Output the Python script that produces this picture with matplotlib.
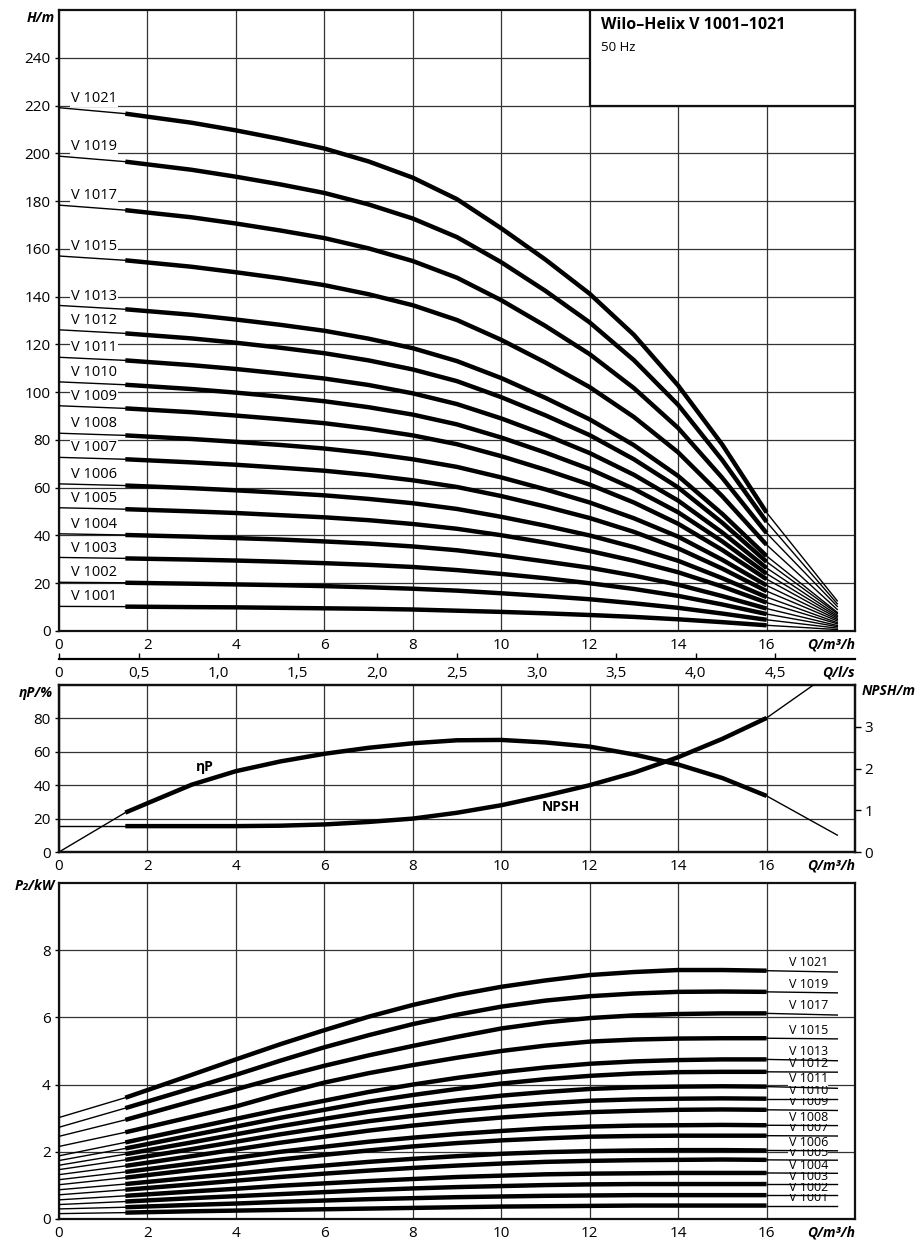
import numpy as np
import matplotlib
matplotlib.use("Agg")
import matplotlib.pyplot as plt
from matplotlib.patches import Rectangle

plt.rcParams['font.family'] = ['Open Sans', 'DejaVu Sans']

# --- data ---
pumps = ["V 1001", "V 1002", "V 1003", "V 1004", "V 1005", "V 1006", "V 1007", "V 1008",
         "V 1009", "V 1010", "V 1011", "V 1012", "V 1013", "V 1015", "V 1017", "V 1019", "V 1021"]

# flow points (m3/h) shared by the H and P2 curves
q = [0, 1.5, 3, 4, 5, 6, 7, 8, 9, 10, 11, 12, 13, 14, 15, 16, 17.6]

head = [
    [10.3, 10.2, 10.0, 9.9, 9.7, 9.5, 9.3, 9.0, 8.5, 8.0, 7.4, 6.7, 5.9, 4.9, 3.7, 2.4, 0.6],
    [20.4, 20.2, 19.8, 19.5, 19.2, 18.8, 18.3, 17.7, 16.9, 15.8, 14.6, 13.3, 11.6, 9.7, 7.3, 4.7, 1.2],
    [30.8, 30.4, 29.9, 29.5, 29.0, 28.4, 27.7, 26.8, 25.5, 23.9, 22.1, 20.0, 17.6, 14.7, 11.1, 7.1, 1.8],
    [40.7, 40.2, 39.5, 38.9, 38.3, 37.5, 36.6, 35.4, 33.8, 31.6, 29.1, 26.5, 23.2, 19.4, 14.6, 9.4, 2.3],
    [51.6, 51.0, 50.1, 49.4, 48.5, 47.6, 46.4, 44.8, 42.8, 40.1, 37.0, 33.5, 29.4, 24.6, 18.6, 11.9, 3.0],
    [61.6, 60.9, 59.8, 58.9, 57.9, 56.8, 55.3, 53.5, 51.1, 47.8, 44.1, 40.0, 35.1, 29.4, 22.1, 14.2, 3.5],
    [72.7, 71.9, 70.6, 69.6, 68.4, 67.1, 65.3, 63.1, 60.3, 56.5, 52.1, 47.3, 41.5, 34.6, 26.1, 16.7, 4.2],
    [82.8, 81.9, 80.4, 79.2, 77.9, 76.4, 74.4, 71.9, 68.7, 64.3, 59.3, 53.8, 47.2, 39.5, 29.8, 19.1, 4.8],
    [94.3, 93.2, 91.6, 90.2, 88.7, 87.0, 84.7, 81.9, 78.2, 73.2, 67.5, 61.3, 53.8, 44.9, 33.9, 21.7, 5.4],
    [104.3, 103.1, 101.3, 99.8, 98.1, 96.2, 93.7, 90.6, 86.5, 81.0, 74.7, 67.8, 59.5, 49.7, 37.5, 24.0, 6.0],
    [114.6, 113.3, 111.3, 109.7, 107.8, 105.7, 103.0, 99.5, 95.0, 89.0, 82.1, 74.5, 65.4, 54.6, 41.2, 26.4, 6.6],
    [126.1, 124.6, 122.5, 120.7, 118.6, 116.3, 113.3, 109.5, 104.6, 97.9, 90.3, 82.0, 71.9, 60.1, 45.3, 29.0, 7.3],
    [136.3, 134.7, 132.4, 130.4, 128.2, 125.7, 122.4, 118.4, 113.0, 105.9, 97.6, 88.6, 77.8, 64.9, 49.0, 31.4, 7.8],
    [157.0, 155.2, 152.5, 150.2, 147.7, 144.8, 141.0, 136.4, 130.2, 121.9, 112.4, 102.1, 89.6, 74.8, 56.4, 36.1, 9.0],
    [178.3, 176.2, 173.2, 170.6, 167.7, 164.5, 160.2, 154.9, 147.9, 138.5, 127.7, 115.9, 101.7, 85.0, 64.1, 41.0, 10.3],
    [198.8, 196.5, 193.1, 190.2, 187.0, 183.4, 178.6, 172.7, 164.9, 154.4, 142.4, 129.2, 113.4, 94.7, 71.5, 45.7, 11.4],
    [219.1, 216.6, 212.8, 209.6, 206.0, 202.0, 196.6, 189.8, 180.8, 168.6, 155.5, 141.2, 124.0, 102.8, 78.0, 49.6, 12.6],
]

power = [
    [0.16, 0.19, 0.23, 0.25, 0.27, 0.29, 0.31, 0.33, 0.35, 0.37, 0.38, 0.39, 0.40, 0.40, 0.40, 0.40, 0.40],
    [0.30, 0.35, 0.42, 0.46, 0.51, 0.55, 0.59, 0.62, 0.65, 0.67, 0.69, 0.70, 0.71, 0.71, 0.71, 0.71, 0.71],
    [0.43, 0.52, 0.62, 0.68, 0.74, 0.80, 0.86, 0.91, 0.95, 0.98, 1.01, 1.03, 1.04, 1.04, 1.04, 1.04, 1.04],
    [0.57, 0.69, 0.82, 0.90, 0.99, 1.06, 1.13, 1.19, 1.25, 1.29, 1.33, 1.35, 1.36, 1.37, 1.37, 1.37, 1.36],
    [0.72, 0.87, 1.03, 1.14, 1.25, 1.35, 1.44, 1.52, 1.59, 1.65, 1.70, 1.73, 1.75, 1.76, 1.77, 1.76, 1.75],
    [0.87, 1.04, 1.23, 1.35, 1.48, 1.59, 1.70, 1.79, 1.87, 1.94, 1.99, 2.02, 2.04, 2.05, 2.05, 2.04, 2.03],
    [1.02, 1.23, 1.46, 1.61, 1.77, 1.91, 2.04, 2.16, 2.26, 2.34, 2.40, 2.45, 2.47, 2.48, 2.48, 2.48, 2.47],
    [1.17, 1.40, 1.65, 1.82, 2.00, 2.15, 2.30, 2.42, 2.53, 2.62, 2.70, 2.75, 2.78, 2.79, 2.80, 2.79, 2.78],
    [1.32, 1.58, 1.87, 2.07, 2.27, 2.45, 2.63, 2.78, 2.91, 3.02, 3.11, 3.18, 3.22, 3.25, 3.26, 3.25, 3.23],
    [1.47, 1.76, 2.08, 2.30, 2.52, 2.72, 2.91, 3.07, 3.22, 3.34, 3.44, 3.52, 3.56, 3.58, 3.59, 3.58, 3.58],
    [1.60, 1.93, 2.28, 2.52, 2.76, 2.98, 3.19, 3.37, 3.53, 3.67, 3.78, 3.87, 3.92, 3.94, 3.95, 3.94, 3.89],
    [1.74, 2.10, 2.49, 2.75, 3.01, 3.25, 3.49, 3.69, 3.87, 4.03, 4.16, 4.26, 4.33, 4.37, 4.38, 4.38, 4.37],
    [1.88, 2.28, 2.70, 2.98, 3.26, 3.52, 3.78, 4.00, 4.20, 4.37, 4.51, 4.62, 4.69, 4.73, 4.75, 4.75, 4.71],
    [2.16, 2.58, 3.04, 3.35, 3.72, 4.06, 4.34, 4.58, 4.80, 5.00, 5.16, 5.28, 5.34, 5.37, 5.38, 5.38, 5.36],
    [2.46, 2.95, 3.50, 3.86, 4.22, 4.56, 4.87, 5.15, 5.42, 5.67, 5.85, 5.98, 6.06, 6.10, 6.12, 6.12, 6.07],
    [2.73, 3.30, 3.89, 4.29, 4.71, 5.11, 5.47, 5.80, 6.08, 6.32, 6.50, 6.63, 6.71, 6.76, 6.77, 6.76, 6.73],
    [3.02, 3.61, 4.29, 4.75, 5.20, 5.62, 6.02, 6.37, 6.67, 6.91, 7.10, 7.26, 7.35, 7.41, 7.41, 7.39, 7.35],
]

eta_q = [0, 1.5, 2, 3, 4, 5, 6, 7, 8, 9, 10, 11, 12, 13, 14, 15, 16, 17.6]
eta = [0, 23.6, 29.2, 40.3, 48.4, 54.2, 58.8, 62.4, 65.1, 66.9, 67.1, 65.6, 63.1, 58.4, 52.4, 44.3, 33.6, 10.1]

npsh_q = [0, 1.5, 4, 5, 6, 7, 8, 9, 10, 11, 12, 13, 14, 15, 16, 17.06, 17.6]
npsh = [0.62, 0.62, 0.62, 0.63, 0.66, 0.72, 0.80, 0.94, 1.12, 1.35, 1.60, 1.90, 2.27, 2.71, 3.21, 4.0, 4.3]

q_ticks = [0, 2, 4, 6, 8, 10, 12, 14, 16]
ls_ticks = [0, 0.5, 1.0, 1.5, 2.0, 2.5, 3.0, 3.5, 4.0, 4.5]

# --- layout helpers ---
W, H = 921, 1241
fig = plt.figure(figsize=(W / 100, H / 100), dpi=100)


def rect(l, t, r, b):
    return [l / W, 1 - b / H, (r - l) / W, (b - t) / H]


def ftext(x, y, s, **kw):
    fig.text(x / W, 1 - y / H, s, **kw)


GRID = '#333333'
THICK = 3.2
THIN = 1.0
TICK_FS = 11
LAB_FS = 10


def style_axes(ax, yticks):
    ax.set_xlim(0, 18)
    ax.set_xticks(q_ticks)
    ax.set_yticks(yticks)
    ax.grid(True, color=GRID, lw=0.9)
    ax.set_axisbelow(True)
    for s in ax.spines.values():
        s.set_linewidth(1.6)
        s.set_color('#111111')
    ax.tick_params(axis='x', length=0, pad=5, labelsize=TICK_FS)
    ax.tick_params(axis='y', length=3, width=1, pad=3, labelsize=TICK_FS)
    ax.annotate('Q/m³/h', xy=(18, 0), xycoords=('data', 'axes fraction'),
                xytext=(0, -5), textcoords='offset points', ha='right', va='top',
                fontsize=LAB_FS, fontweight='bold', fontstyle='italic')


def draw_curve(ax, x, y):
    # thin part below 1.5 m3/h and above 16 m3/h, thick working range between
    x = np.asarray(x)
    y = np.asarray(y)
    lo = x <= 1.5
    mid = (x >= 1.5) & (x <= 16)
    hi = x >= 16
    ax.plot(x[lo], y[lo], color='black', lw=THIN, zorder=3)
    ax.plot(x[mid], y[mid], color='black', lw=THICK, zorder=3,
            solid_capstyle='butt', solid_joinstyle='round')
    ax.plot(x[hi], y[hi], color='black', lw=THIN, zorder=3)


# --- head curves ---
ax_h = fig.add_axes(rect(59, 10, 855, 631))
style_axes(ax_h, range(0, 260, 20))
ax_h.set_ylim(0, 260)
for name, hv in zip(pumps, head):
    draw_curve(ax_h, q, hv)
    ax_h.text(0.27, hv[0] + 0.8, name, fontsize=10.5, ha='left', va='bottom', zorder=2.5,
              bbox=dict(boxstyle='square,pad=0.05', fc='white', ec='none'))

ax_h.add_patch(Rectangle((12, 220), 6, 40, fc='white', ec='#111111', lw=1.6, zorder=4))
ax_h.text(12.25, 250.5, 'Wilo–Helix V 1001–1021', fontsize=11.5, fontweight='bold',
          ha='left', va='bottom', zorder=5)
ax_h.text(12.25, 241.5, '50 Hz', fontsize=9.5, ha='left', va='bottom', zorder=5)
ftext(55, 18, 'H/m', fontsize=LAB_FS, fontweight='bold', fontstyle='italic',
      ha='right', va='center')

# --- l/s scale ---
ax_ls = fig.add_axes(rect(59, 658, 855, 659))
ax_ls.set_xlim(0, 5)
ax_ls.set_xticks(ls_ticks)
ax_ls.set_xticklabels([f"{v:.1f}".replace('.', ',') if v else '0' for v in ls_ticks])
ax_ls.set_yticks([])
for side in ['top', 'left', 'right']:
    ax_ls.spines[side].set_visible(False)
ax_ls.spines['bottom'].set_linewidth(1.6)
ax_ls.tick_params(axis='x', direction='in', length=4, width=1, pad=5, labelsize=TICK_FS)
ax_ls.patch.set_alpha(0)
ax_ls.annotate('Q/l/s', xy=(5, 0), xycoords=('data', 'axes fraction'),
               xytext=(0, -5), textcoords='offset points', ha='right', va='top',
               fontsize=LAB_FS, fontweight='bold', fontstyle='italic')

# --- efficiency / NPSH ---
ax_e = fig.add_axes(rect(59, 685, 855, 852))
style_axes(ax_e, [0, 20, 40, 60, 80])
ax_e.set_ylim(0, 100)
draw_curve(ax_e, eta_q, eta)
ax_e.text(3.3, 51, 'ηP', fontsize=10, fontweight='bold', ha='center', va='center')

ax_n = ax_e.twinx()
ax_n.set_ylim(0, 4)
ax_n.set_yticks([0, 1, 2, 3])
ax_n.tick_params(axis='y', length=4, width=1, pad=3, labelsize=TICK_FS)
for s in ax_n.spines.values():
    s.set_linewidth(1.6)
    s.set_color('#111111')
draw_curve(ax_n, npsh_q, npsh)
ax_n.set_xlim(0, 18)
ax_e.text(11.35, 26.8, 'NPSH', fontsize=10, fontweight='bold', ha='center', va='center')
ftext(53, 693, 'ηP/%', fontsize=LAB_FS, fontweight='bold', fontstyle='italic',
      ha='right', va='center')
ftext(862, 691, 'NPSH/m', fontsize=LAB_FS, fontweight='bold', fontstyle='italic',
      ha='left', va='center')

# --- power curves ---
ax_p = fig.add_axes(rect(59, 883, 855, 1219))
style_axes(ax_p, [0, 2, 4, 6, 8])
ax_p.set_ylim(0, 10)
for name, pv in zip(pumps, power):
    draw_curve(ax_p, q, pv)
    ax_p.text(16.5, pv[15] + 0.04, name, fontsize=9, ha='left', va='bottom', zorder=2.5,
              bbox=dict(boxstyle='square,pad=0.02', fc='white', ec='none'))
ftext(55, 886, 'P₂/kW', fontsize=LAB_FS, fontweight='bold', fontstyle='italic',
      ha='right', va='center')

fig.savefig('out.png', dpi=100, facecolor='white')
